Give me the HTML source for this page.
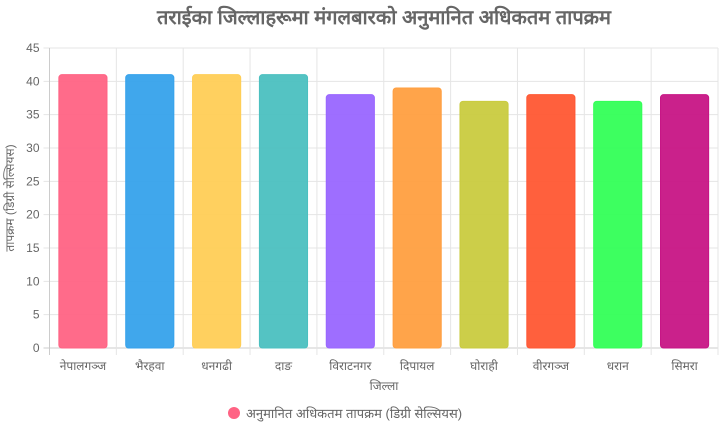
<!DOCTYPE html>
<html><head><meta charset="utf-8"><style>
body{margin:0;background:#fff;width:719px;height:433px;overflow:hidden;font-family:"Liberation Sans","DejaVu Sans",sans-serif}
</style></head><body>
<svg id="c" width="719" height="433" style="font-family:'Liberation Sans','DejaVu Sans',sans-serif">
<text x="384" y="24" text-anchor="middle" font-size="20" font-weight="bold" fill="#666">तराईका जिल्लाहरूमा मंगलबारको अनुमानित अधिकतम तापक्रम</text>
<g id="grid"></g><g id="bars"></g><g id="labels"></g>
<text transform="translate(14,198) rotate(-90)" text-anchor="middle" font-size="12" fill="#666">तापक्रम (डिग्री सेल्सियस)</text>
<text x="384" y="390" text-anchor="middle" font-size="12" fill="#666">जिल्ला</text>
<g>
<circle cx="234" cy="413" r="6" fill="#FF6384"/>
<text x="246" y="418" font-size="13" fill="#666">अनुमानित अधिकतम तापक्रम (डिग्री सेल्सियस)</text>
</g>
</svg>
<script>
const categories=["नेपालगञ्ज","भैरहवा","धनगढी","दाङ","विराटनगर","दिपायल","घोराही","वीरगञ्ज","धरान","सिमरा"];
const values=[41,41,41,41,38,39,37,38,37,38];
const ticks=[0,5,10,15,20,25,30,35,40,45];
const colors=["#FF6384","#36A2EB","#FFCE56","#4BC0C0","#9966FF","#FF9F40","#C9CB3F","#FF5733","#33FF57","#C71585"];
const L=49.5,R=718,T=48,B=348,ymax=45;
const y=v=>B-(v/ymax)*(B-T);
const cw=(R-L)/categories.length;
const x=i=>L+i*cw;
const ns="http://www.w3.org/2000/svg";
const g=document.getElementById('grid'),bg=document.getElementById('bars'),lg=document.getElementById('labels');
function mk(tag,a,p){const e=document.createElementNS(ns,tag);for(const k in a)e.setAttribute(k,a[k]);p.appendChild(e);return e;}
ticks.forEach(t=>{
 const ln=mk('line',{x1:L-6,x2:R,y1:y(t),y2:y(t),stroke:t===0?'#ccc':'#e5e5e5','stroke-width':1},g);
 
 
 const tx=mk('text',{x:L-10,y:y(t)+4,'text-anchor':'end','font-size':12,fill:'#666'},lg);
 tx.textContent=t;
 
 
});
for(let i=0;i<=categories.length;i++){
 const ln=mk('line',{x1:x(i),x2:x(i),y1:T,y2:B+7,stroke:i===0?'#ccc':'#e5e5e5','stroke-width':1},g);
 
 
}
categories.forEach((c,i)=>{
 const bw=cw*0.72,bx=x(i)+(cw-bw)/2;
 const r=mk('rect',{x:bx,y:y(values[i]),width:bw,height:B-y(values[i]),rx:3,fill:colors[i],stroke:colors[i],'stroke-width':1,'fill-opacity':0.95},bg);
 
 
 const t=mk('text',{x:x(i)+cw/2,y:370,'text-anchor':'middle','font-size':12,fill:'#666'},lg);
 t.textContent=c;
 
 
});
</script>
</body></html>
